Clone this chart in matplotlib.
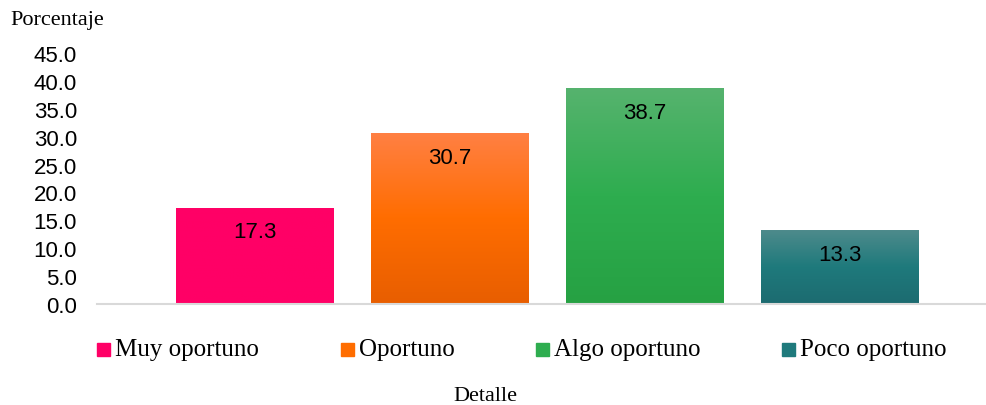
import numpy as np
import matplotlib.pyplot as plt
from matplotlib.colors import LinearSegmentedColormap
from matplotlib.patches import Rectangle

categorias = ["Muy oportuno", "Oportuno", "Algo oportuno", "Poco oportuno"]
valores = [17.3, 30.7, 38.7, 13.3]

# gradient colours for each bar (top, middle, bottom)
gradientes = [
    ["#FF0066", "#FF0066", "#FF0066"],
    ["#FF8044", "#FF6D00", "#E85E00"],
    ["#56B36E", "#2EAD4F", "#26A143"],
    ["#4F8B8C", "#1F7A7C", "#1C6B70"],
]

fig = plt.figure(figsize=(9.87, 4.06), dpi=100)
ax = fig.add_axes([97 / 987, 101 / 406, 889 / 987, 251 / 406])

x = np.arange(len(valores))
ancho = 0.81
barras = ax.bar(x, valores, width=ancho, color="none")

for b, cols in zip(barras, gradientes):
    cmap = LinearSegmentedColormap.from_list("g", cols[::-1])
    x0, y0 = b.get_x(), b.get_y()
    w, h = b.get_width(), b.get_height()
    grad = np.linspace(0, 1, 256).reshape(-1, 1)
    im = ax.imshow(grad, cmap=cmap, aspect="auto", origin="lower",
                   extent=[x0, x0 + w, y0, y0 + h], zorder=2)
    im.set_clip_path(b)

for xi, v in zip(x, valores):
    ax.annotate(f"{v:.1f}", (xi, v), xytext=(0, -17.5), textcoords="offset points",
                ha="center", va="center", fontsize=16, family="Liberation Sans",
                zorder=3)

ax.set_xlim(-0.81, 3.749)
ax.set_ylim(0, 45)
ax.set_yticks(np.arange(0, 46, 5))
ax.set_yticklabels([f"{t:.1f}" for t in np.arange(0, 46, 5)],
                   family="Liberation Sans", fontsize=16)
ax.set_xticks([])
for s in ["top", "right", "left"]:
    ax.spines[s].set_visible(False)
ax.spines["bottom"].set_color("#D9D9D9")
ax.spines["bottom"].set_linewidth(1.5)
ax.tick_params(axis="y", length=0, pad=14.5)

fig.text(10 / 987, 1 - 20 / 406, "Porcentaje", family="Liberation Serif",
         fontsize=16, va="center", ha="left")
fig.text(485 / 987, 1 - 397 / 406, "Detalle", family="Liberation Serif",
         fontsize=16, va="center", ha="center")

# legend entries placed by hand
leyenda_x = [97, 341, 536, 782]
for lx, nombre, cols in zip(leyenda_x, categorias, gradientes):
    fig.patches.append(Rectangle((lx / 987, 1 - 357 / 406), 13 / 987, 13 / 406,
                                 transform=fig.transFigure, color=cols[1]))
    fig.text((lx + 18) / 987, 1 - 350 / 406, nombre, family="Liberation Serif",
             fontsize=18, va="center", ha="left")

fig.savefig("out.png", dpi=100)
